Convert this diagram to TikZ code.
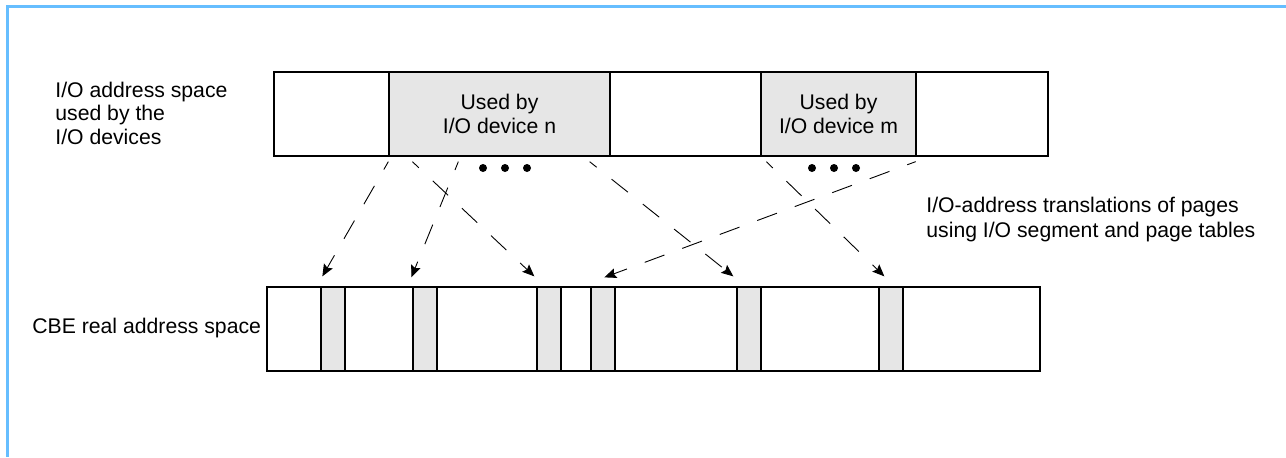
\documentclass[tikz,border=0pt]{standalone}
\usepackage{fontspec}
\setmainfont{Liberation Sans}
\usetikzlibrary{arrows.meta,calc}
\definecolor{frameblue}{RGB}{102,190,255}
\definecolor{usedgray}{RGB}{230,230,230}
\begin{document}
\begin{tikzpicture}[x=0.5pt,y=-0.5pt,
  txt/.style={inner sep=0pt, font=\fontsize{10.6pt}{12.4pt}\selectfont},
  bar/.style={draw=black, line width=0.65pt, fill=white, inner sep=0pt, minimum height=42pt},
  used/.style={bar, fill=usedgray, align=center, font=\fontsize{10.6pt}{12.4pt}\selectfont},
  page/.style={bar, fill=usedgray, minimum width=12pt},
  map/.style={draw, line width=0.45pt, dash pattern=on 10.5pt off 9.5pt, dash phase=6pt, -{Stealth[length=6pt,width=5pt,inset=1pt]}},
  dot/.style={circle, fill=black, inner sep=0pt, minimum size=4pt}]
\useasboundingbox (0,0) rectangle (1286,457);
\draw[frameblue, line width=1.5pt] (7,457) -- (7,6) -- (1286,6);

% I/O address space
\node[bar, minimum width=387pt] (io) at (661,114) {};
\node[used, minimum width=110.5pt] (devn) at (499.5,114) {Used by\\I/O device n};
\node[used, minimum width=77.5pt] (devm) at (838.5,114) {Used by\\I/O device m};

% real address space
\node[bar, minimum width=386.5pt] (real) at (653.5,329) {};
\node[page] (p1) at (333,329) {};
\node[page] (p2) at (425,329) {};
\node[page] (p3) at (549,329) {};
\node[page] (p4) at (603,329) {};
\node[page] (p5) at (749,329) {};
\node[page] (p6) at (891,329) {};

% dots
\node[dot] (dn1) at (483,168) {};
\node[dot] (dn2) at (505,168) {};
\node[dot] (dn3) at (527,168) {};
\node[dot] (dm1) at (812,168) {};
\node[dot] (dm2) at (834,168) {};
\node[dot] (dm3) at (856,168) {};

% labels
\node[txt, anchor=base west] (l1) at (55,97) {I/O address space};
\node[txt, anchor=base west] (l2) at (55,120.5) {used by the};
\node[txt, anchor=base west] (l3) at (55,144) {I/O devices};
\node[txt, anchor=base west] (cbe) at (32,333) {CBE real address space};
\node[txt, anchor=base west] (t1) at (926,212) {I/O-address translations of pages};
\node[txt, anchor=base west] (t2) at (926,237) {using I/O segment and page tables};

% mappings
\draw[map] ($(devn.south west)+(0,5)$) -- ($(p1.north west)+(2,-10)$);
\draw[map] ($(devn.south west)+(24,5)$) -- ($(p3.north west)+(-2,-10)$);
\draw[map] ($(devn.south west)+(70,5)$) -- ($(p2.north west)+(-1,-9)$);
\draw[map] ($(devn.south east)+(-21,5)$) -- ($(p5.north west)+(-3,-10)$);
\draw[map] ($(devm.south west)+(6,5)$) -- ($(p6.north west)+(6,-10)$);
\draw[map] ($(devm.south east)+(-1,5)$) -- ($(p4.north west)+(14,-9)$);
\end{tikzpicture}
\end{document}
